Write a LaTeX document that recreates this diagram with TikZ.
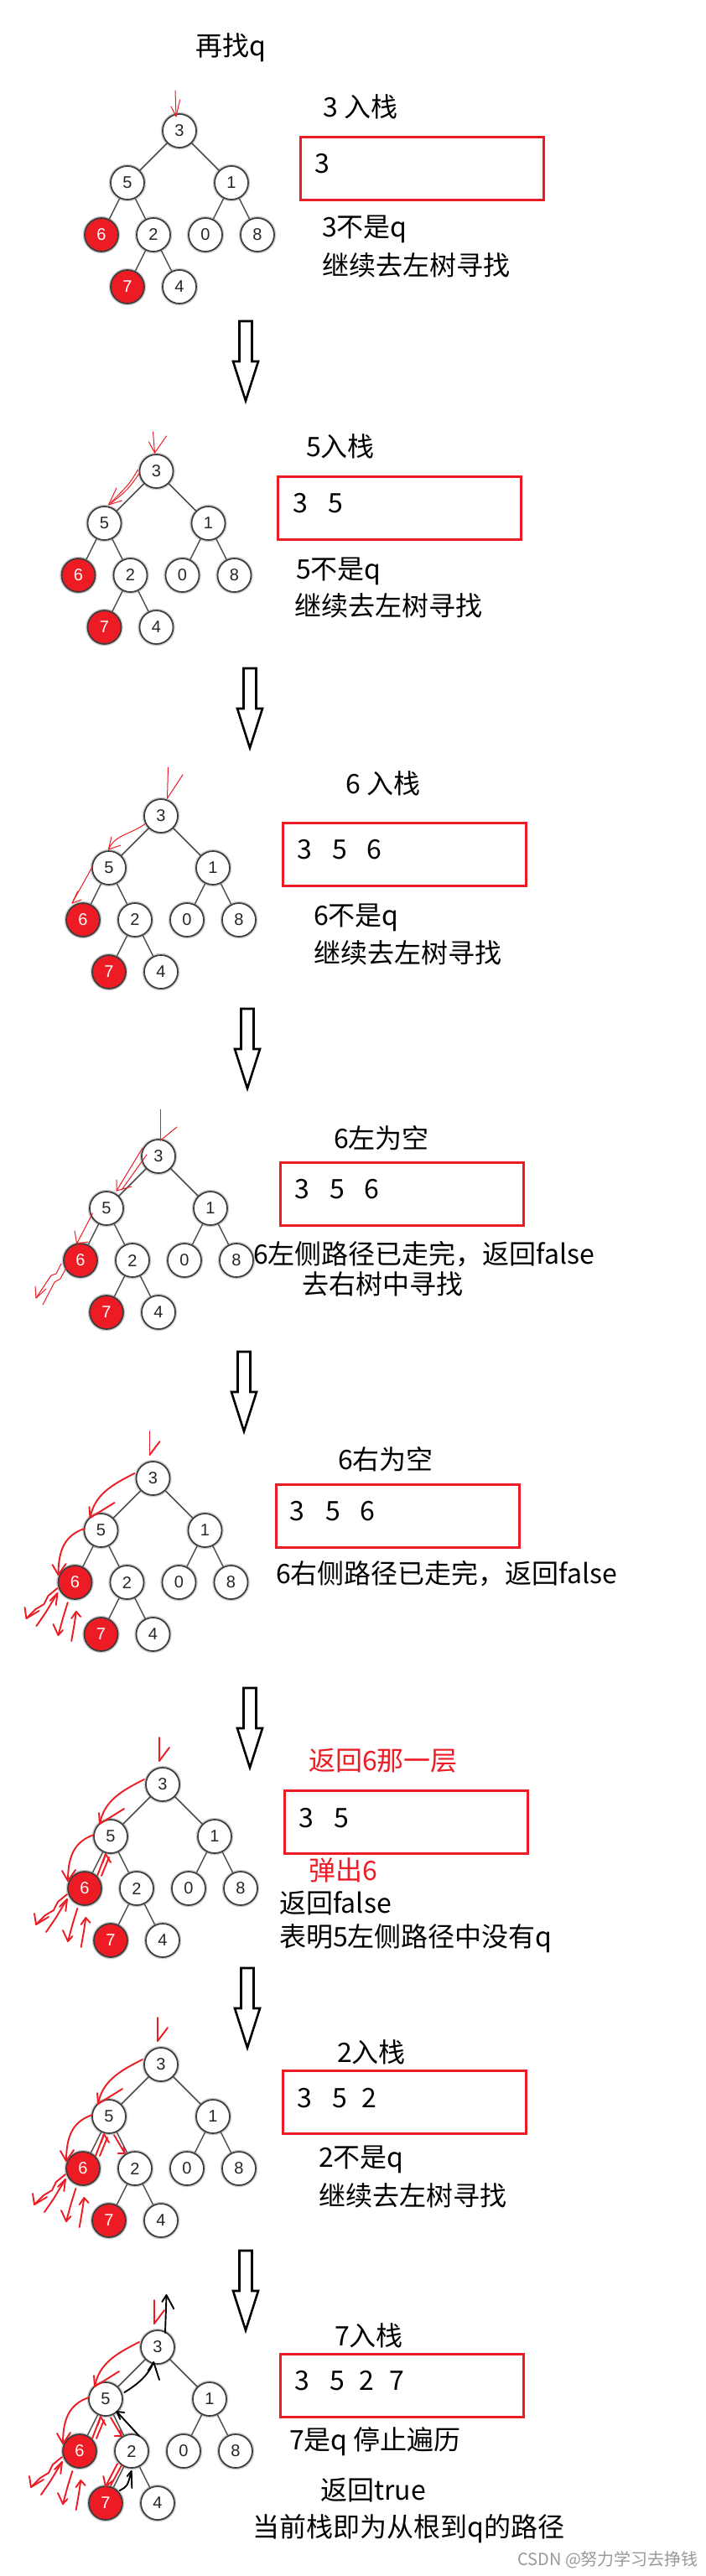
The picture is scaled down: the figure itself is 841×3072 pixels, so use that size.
\documentclass[tikz,border=0pt]{standalone}
\usepackage{fontspec}
\setmainfont{Noto Sans CJK SC}
\newfontfamily\numfont{Liberation Sans}
\usetikzlibrary{arrows.meta}
\definecolor{pred}{HTML}{ED1C24}
\definecolor{nodeedge}{HTML}{3C3C3C}
\tikzset{
 tn/.style={circle, minimum size=40pt, inner sep=0pt, draw=nodeedge, line width=1.7pt, fill=white,
   font=\numfont\fontsize{20}{20}\selectfont, text=black!85, preaction={draw=black!20, line width=4.5pt}},
 tnred/.style={tn, fill=pred, text=white},
 tedge/.style={draw=black!70, line width=1.5pt},
 stackbox/.style={draw=pred, line width=3pt, minimum width=290pt, minimum height=75pt, anchor=north west, inner sep=0pt},
 lbl/.style={anchor=west, inner sep=0pt, font=\fontsize{32}{36}\selectfont},
 redlbl/.style={lbl, text=pred},
 digit/.style={inner sep=0pt, font=\fontsize{32}{36}\selectfont},
 bigarrow/.style={draw=black, line width=2.6pt, fill=white, line join=miter},
 thinpen/.style={draw=pred, line width=1pt, line cap=round, line join=round},
 thickpen/.style={draw=pred, line width=1.9pt, line cap=round, line join=round},
 blackpen/.style={draw=black, line width=1.9pt, line cap=round, line join=round},
}
\newcommand{\bintree}[3]{%
 \begin{scope}[shift={(#2,#3)}]
 \node[tn] (#1a) at (0,0) {3};
 \node[tn] (#1b) at (-62,62) {5};
 \node[tn] (#1c) at (62,62) {1};
 \node[tnred] (#1d) at (-93,124) {6};
 \node[tn] (#1e) at (-31,124) {2};
 \node[tn] (#1f) at (31,124) {0};
 \node[tn] (#1g) at (93,124) {8};
 \node[tnred] (#1h) at (-62,186) {7};
 \node[tn] (#1i) at (0,186) {4};
 \draw[tedge] (#1a) -- (#1b);
 \draw[tedge] (#1a) -- (#1c);
 \draw[tedge] (#1b) -- (#1d);
 \draw[tedge] (#1b) -- (#1e);
 \draw[tedge] (#1c) -- (#1f);
 \draw[tedge] (#1c) -- (#1g);
 \draw[tedge] (#1e) -- (#1h);
 \draw[tedge] (#1e) -- (#1i);
 \end{scope}}
\newcommand{\bigdownarrow}[2]{%
 \draw[bigarrow] (#1-7.5,#2) -- (#1+7.5,#2) -- (#1+7.5,#2+48) -- (#1+15,#2+48) -- (#1,#2+95)
   -- (#1-15,#2+48) -- (#1-7.5,#2+48) -- cycle;}
\newcommand{\walkdownpath}{%
 \draw[thickpen] (-4,-56) -- (-4,-28);
 \draw[thickpen] (8,-44) -- (-4,-28);
 \draw[thickpen] (-22,-6) .. controls (-50,8) and (-70,20) .. (-75,47);
 \draw[thickpen] (-76,34) -- (-75,47) -- (-46,29);
 \draw[thickpen] (-82,60) .. controls (-105,68) and (-113,85) .. (-113,115);
 \draw[thickpen] (-120,103) -- (-113,115) -- (-104,102);
 \draw[thickpen] (-114,131) -- (-125,140) -- (-130,150) -- (-140,156) -- (-151,167);
 \draw[thickpen] (-153,154) -- (-151,167) -- (-136,158);
 \draw[thickpen] (-139,176) -- (-128,160) -- (-122,150) -- (-114,137);
 \draw[thickpen] (-123,146) -- (-114,137) -- (-115.7,151);
 \draw[thickpen] (-101.7,148) -- (-107,165) -- (-113,187);
 \draw[thickpen] (-119,174) -- (-113,187) -- (-107.5,181);
 \draw[thickpen] (-97.3,194) -- (-94,175) -- (-91.7,159);
 \draw[thickpen] (-97.3,167) -- (-91.7,159) -- (-86.3,165);}
\newcommand{\returnfivepath}{%
 \draw[thickpen] (-78,109) -- (-68,83);
 \draw[thickpen] (-73,109) -- (-64,87);
 \draw[thickpen] (-71.3,93) -- (-68,83) -- (-62,93);}
\newcommand{\fivetotwopath}{%
 \draw[thickpen] (-56,84) -- (-43,106);
 \draw[thickpen] (-51.3,106) -- (-43,106) -- (-44.7,99);}
\begin{document}
\begin{tikzpicture}[x=1pt,y=-1pt]
\fill[white] (0,0) rectangle (841,3072);
\useasboundingbox (0,0) rectangle (841,3072);

% ---------- Panel 1 ----------
\node[lbl] (t1a) at (233,57) {再找q};
\bintree{pa}{214}{156}
\begin{scope}[shift={(214,156)}]
 \draw[thinpen] (-5,-48) -- (-4,-17);
 \draw[thinpen] (-10,-29) -- (-4,-17) -- (0.6,-37);
\end{scope}
\node[lbl] (t1b) at (385,127) {3 入栈};
\node[stackbox] (s1) at (357,162) {};
\node[digit] (s1a) at (384,195) {3};
\node[lbl] (t1c) at (384,273) {3不是q};
\node[lbl] (t1d) at (384,316) {继续去左树寻找};
\bigdownarrow{293}{383}

% ---------- Panel 2 ----------
\bintree{pb}{186.5}{562}
\begin{scope}[shift={(186.5,562)}]
 \draw[thinpen] (-4,-47) -- (-2,-22);
 \draw[thinpen] (-9,-35) -- (-2,-22) -- (12,-42);
 \draw[thinpen] (-22,-2) .. controls (-32,15) .. (-57,40);
 \draw[thinpen] (-20,2) .. controls (-34,22) .. (-54,38);
 \draw[thinpen] (-47.5,20) -- (-57,40) -- (-41,35);
\end{scope}
\node[lbl] (t2a) at (365,532) {5入栈};
\node[stackbox] (s2) at (330,567) {};
\node[digit] (s2a) at (358,600) {3};
\node[digit] (s2b) at (400,600) {5};
\node[lbl] (t2b) at (353,681) {5不是q};
\node[lbl] (t2c) at (351,722) {继续去左树寻找};
\bigdownarrow{298}{797}

% ---------- Panel 3 ----------
\bintree{pc}{192}{973}
\begin{scope}[shift={(192,973)}]
 \draw[thinpen] (8.5,-58) -- (7.5,-21);
 \draw[thinpen] (26,-49) -- (7.5,-21);
 \draw[thinpen] (-18.4,9) .. controls (-35,22) and (-55,22) .. (-62.6,40);
 \draw[thinpen] (-59,25) -- (-62.6,40) -- (-48,35);
 \draw[thinpen] (-81.5,60) -- (-106,104);
 \draw[thinpen] (-99.3,90) -- (-106,104) -- (-95,100);
\end{scope}
\node[lbl] (t3a) at (412,934) {6 入栈};
\node[stackbox] (s3) at (336,980) {};
\node[digit] (s3a) at (363,1013) {3};
\node[digit] (s3b) at (405,1013) {5};
\node[digit] (s3c) at (446,1013) {6};
\node[lbl] (t3b) at (374,1094) {6不是q};
\node[lbl] (t3c) at (374,1136) {继续去左树寻找};
\bigdownarrow{295}{1203}

% ---------- Panel 4 ----------
\bintree{pd}{189}{1379}
\begin{scope}[shift={(189,1379)}]
 \draw[thinpen] (2.4,-56) -- (2.4,-19);
 \draw[thinpen] (22,-35) -- (2.4,-19);
 \draw[thinpen] (-19,-10) -- (-50,41);
 \draw[thinpen] (-14,-2) -- (-44,40);
 \draw[thinpen] (-50,28) -- (-50,41) -- (-32,36);
 \draw[thinpen] (-78.5,68) -- (-97.4,104);
 \draw[thinpen] (-100,89) -- (-97.4,104) -- (-84,102);
 \draw[thinpen] (-116,128) -- (-122,140) -- (-128,142) -- (-146,169);
 \draw[thinpen] (-109,131) -- (-117,146) -- (-124,150) -- (-138,177);
 \draw[thinpen] (-147,155) -- (-146,169) -- (-134,158);
\end{scope}
\node[lbl] (t4a) at (398,1357) {6左为空};
\node[stackbox] (s4) at (333,1385) {};
\node[digit] (s4a) at (360,1418) {3};
\node[digit] (s4b) at (402,1418) {5};
\node[digit] (s4c) at (443,1418) {6};
\node[lbl] (t4b) at (302,1496) {6左侧路径已走完，返回false};
\node[lbl] (t4c) at (360,1531) {去右树中寻找};
\bigdownarrow{291}{1612}

% ---------- Panel 5 ----------
\bintree{pe}{182.5}{1763}
\begin{scope}[shift={(182.5,1763)}]
 \walkdownpath
\end{scope}
\node[lbl] (t5a) at (403,1740) {6右为空};
\node[stackbox] (s5) at (328,1769) {};
\node[digit] (s5a) at (354,1802) {3};
\node[digit] (s5b) at (397,1802) {5};
\node[digit] (s5c) at (438,1802) {6};
\node[lbl] (t5b) at (329,1877) {6右侧路径已走完，返回false};
\bigdownarrow{298}{2013}

% ---------- Panel 6 ----------
\bintree{pf}{194}{2128}
\begin{scope}[shift={(194,2128)}]
 \walkdownpath
 \returnfivepath
\end{scope}
\node[redlbl] (t6a) at (368,2100) {返回6那一层};
\node[stackbox] (s6) at (338,2134) {};
\node[digit] (s6a) at (365,2168) {3};
\node[digit] (s6b) at (407,2168) {5};
\node[redlbl] (t6b) at (368,2230) {弹出6};
\node[lbl] (t6c) at (333,2270) {返回false};
\node[lbl] (t6d) at (333,2312) {表明5左侧路径中没有q};
\bigdownarrow{295}{2347}

% ---------- Panel 7 ----------
\bintree{pg}{192}{2462}
\begin{scope}[shift={(192,2462)}]
 \walkdownpath
 \returnfivepath
 \fivetotwopath
\end{scope}
\node[lbl] (t7a) at (402,2447) {2入栈};
\node[stackbox] (s7) at (336,2468) {};
\node[digit] (s7a) at (363,2502) {3};
\node[digit] (s7b) at (405,2502) {5};
\node[digit] (s7c) at (440,2502) {2};
\node[lbl] (t7b) at (380,2575) {2不是q};
\node[lbl] (t7c) at (380,2618) {继续去左树寻找};
\bigdownarrow{293}{2684}

% ---------- Panel 8 ----------
\bintree{ph}{188}{2799}
\begin{scope}[shift={(188,2799)}]
 \walkdownpath
 \returnfivepath
 \fivetotwopath
 \draw[thickpen] (-48,139) -- (-62,166);
 \draw[thickpen] (-43,141) -- (-56,165);
 \draw[thickpen] (-64.7,154) -- (-62,166) -- (-53,159);
 % black return path
 \draw[blackpen] (9,-17) -- (10.5,-62);
 \draw[blackpen] (5.3,-54) -- (10.5,-62) -- (19.3,-45.7);
 \draw[blackpen] (-45.3,171) .. controls (-36,166) .. (-31.3,148);
 \draw[blackpen] (-36.3,154) -- (-31.3,148) -- (-30.7,168);
 \draw[blackpen] (-22,106) -- (-48.7,77);
 \draw[blackpen] (-39.7,78) -- (-48.7,77) -- (-44.7,86);
 \draw[blackpen] (-39.7,54) .. controls (-25,45) and (-12,35) .. (-4.7,18);
 \draw[blackpen] (-11.3,28) -- (-4.7,18) -- (2,39);
\end{scope}
\node[lbl] (t8a) at (399,2785) {7入栈};
\node[stackbox] (s8) at (333,2806) {};
\node[digit] (s8a) at (360,2839) {3};
\node[digit] (s8b) at (402,2839) {5};
\node[digit] (s8c) at (437,2839) {2};
\node[digit] (s8d) at (473,2839) {7};
\node[lbl] (t8b) at (345,2912) {7是q 停止遍历};
\node[lbl] (t8c) at (382,2970) {返回true};
\node[lbl] (t8d) at (301,3016) {当前栈即为从根到q的路径};
\node[anchor=west, inner sep=0pt, font=\fontsize{20}{22}\selectfont, text=black!40] (wm) at (617,3053) {CSDN @努力学习去挣钱};
\end{tikzpicture}
\end{document}
